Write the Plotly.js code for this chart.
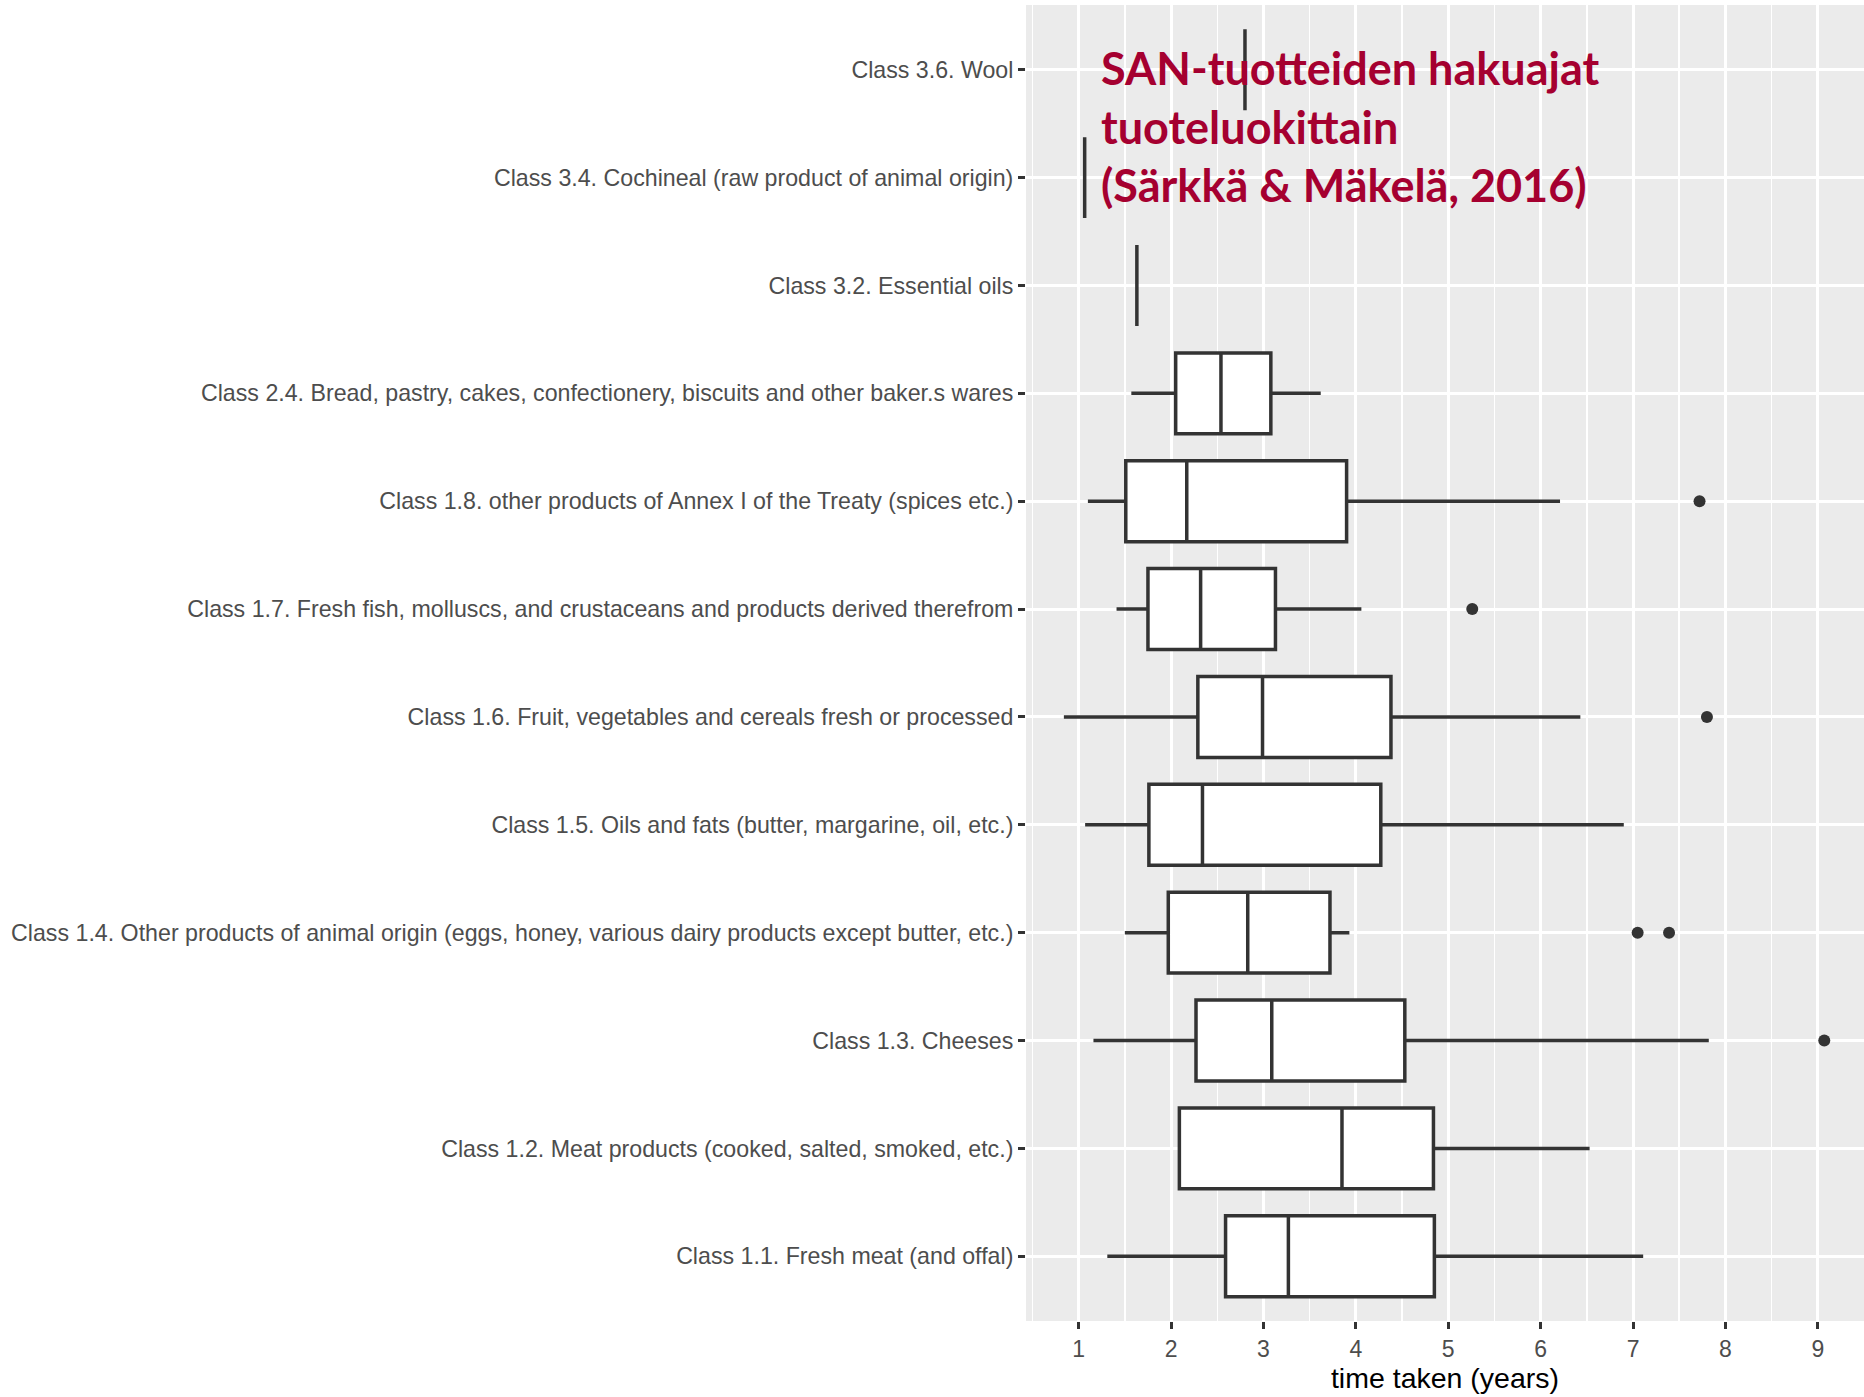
<!DOCTYPE html>
<html>
<head>
<meta charset="utf-8">
<script src="https://cdn.plot.ly/plotly-3.0.1.min.js"></script>
<style>html,body{margin:0;padding:0;background:#fff;}#chart{width:1864px;height:1397px;}</style>
</head>
<body>
<div id="chart"></div>
<script>
// Categories, listed top to bottom as displayed
const categories = [
  "Class 3.6. Wool",
  "Class 3.4. Cochineal (raw product of animal origin)",
  "Class 3.2. Essential oils",
  "Class 2.4. Bread, pastry, cakes, confectionery, biscuits and other baker.s wares",
  "Class 1.8. other products of Annex I of the Treaty (spices etc.)",
  "Class 1.7. Fresh fish, molluscs, and crustaceans and products derived therefrom",
  "Class 1.6. Fruit, vegetables and cereals fresh or processed",
  "Class 1.5. Oils and fats (butter, margarine, oil, etc.)",
  "Class 1.4. Other products of animal origin (eggs, honey, various dairy products except butter, etc.)",
  "Class 1.3. Cheeses",
  "Class 1.2. Meat products (cooked, salted, smoked, etc.)",
  "Class 1.1. Fresh meat (and offal)"
];
// Box statistics (years)
const lowerFence = [2.80, 1.065, 1.63, 1.57, 1.10, 1.41, 0.84, 1.07, 1.50, 1.16, 2.09, 1.31];
const q1Values   = [2.80, 1.065, 1.63, 2.05, 1.51, 1.75, 2.29, 1.76, 1.97, 2.27, 2.09, 2.59];
const medians    = [2.80, 1.065, 1.63, 2.54, 2.17, 2.32, 2.99, 2.34, 2.83, 3.09, 3.85, 3.27];
const q3Values   = [2.80, 1.065, 1.63, 3.08, 3.90, 3.13, 4.38, 4.27, 3.72, 4.53, 4.84, 4.85];
const upperFence = [2.80, 1.065, 1.63, 3.62, 6.21, 4.06, 6.43, 6.90, 3.93, 7.82, 6.53, 7.11];
// Outliers
const outlierClass = [
  "Class 1.8. other products of Annex I of the Treaty (spices etc.)",
  "Class 1.7. Fresh fish, molluscs, and crustaceans and products derived therefrom",
  "Class 1.6. Fruit, vegetables and cereals fresh or processed",
  "Class 1.4. Other products of animal origin (eggs, honey, various dairy products except butter, etc.)",
  "Class 1.4. Other products of animal origin (eggs, honey, various dairy products except butter, etc.)",
  "Class 1.3. Cheeses"
];
const outlierValue = [7.72, 5.26, 7.80, 7.05, 7.39, 9.07];
const xTicks = [1, 2, 3, 4, 5, 6, 7, 8, 9];
const titleText = "SAN-tuotteiden hakuajat<br>tuoteluokittain<br>(Särkkä &amp; Mäkelä, 2016)";

const traces = [
  {
    type: 'box',
    orientation: 'h',
    y: categories,
    lowerfence: lowerFence,
    q1: q1Values,
    median: medians,
    q3: q3Values,
    upperfence: upperFence,
    width: 0.75,
    fillcolor: '#FFFFFF',
    line: {color: '#333333', width: 3.5},
    whiskerwidth: 0,
    boxpoints: false,
    hoverinfo: 'skip',
    showlegend: false
  },
  {
    type: 'scatter',
    mode: 'markers',
    x: outlierValue,
    y: outlierClass,
    marker: {color: '#333333', size: 12},
    hoverinfo: 'skip',
    showlegend: false
  }
];

const layout = {
  width: 1864,
  height: 1397,
  margin: {l: 1026, r: 0, t: 5, b: 76, pad: 0},
  paper_bgcolor: '#FFFFFF',
  plot_bgcolor: '#EBEBEB',
  showlegend: false,
  font: {family: 'Liberation Sans, Arial, sans-serif', color: '#4D4D4D'},
  xaxis: {
    range: [0.43, 9.5],
    tickvals: xTicks,
    ticktext: xTicks.map(String),
    showgrid: true,
    gridcolor: '#FFFFFF',
    gridwidth: 3,
    minor: {dtick: 0.5, tick0: 0.5, showgrid: true, gridcolor: '#FFFFFF', gridwidth: 1.5, ticks: ''},
    zeroline: false,
    showline: false,
    ticks: 'outside',
    ticklen: 7,
    tickwidth: 3,
    tickcolor: '#333333',
    tickfont: {size: 23, color: '#4D4D4D'},
    title: {text: 'time taken (years)', font: {size: 28.5, color: '#000000'}, standoff: 5},
    automargin: false,
    fixedrange: true
  },
  yaxis: {
    type: 'category',
    categoryorder: 'array',
    categoryarray: categories,
    range: [11.6, -0.6],
    showgrid: true,
    gridcolor: '#FFFFFF',
    gridwidth: 3,
    zeroline: false,
    showline: false,
    ticks: 'outside',
    ticklen: 7,
    tickwidth: 3,
    tickcolor: '#333333',
    tickfont: {size: 23.2, color: '#4D4D4D'},
    automargin: false,
    fixedrange: true
  },
  annotations: [{
    xref: 'paper', yref: 'paper',
    x: 0.0875, y: 0.974,
    xanchor: 'left', yanchor: 'top',
    align: 'left',
    showarrow: false,
    text: '<b>' + titleText + '</b>',
    font: {family: 'Lato, sans-serif', size: 45, color: '#A50030'}
  }]
};

Plotly.newPlot('chart', traces, layout, {staticPlot: true, displayModeBar: false});
</script>
</body>
</html>
